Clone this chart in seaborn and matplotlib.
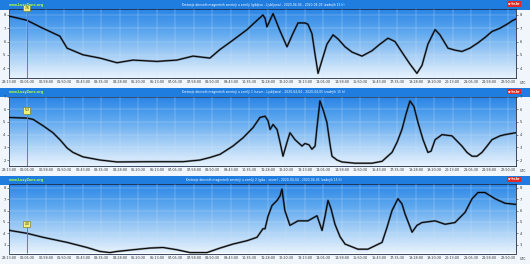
import numpy as np
import pandas as pd
import matplotlib
matplotlib.use("Agg")
import matplotlib.pyplot as plt
import seaborn as sns
from matplotlib.colors import LinearSegmentedColormap
from matplotlib.patches import Rectangle

sns.set_theme(style="white")
plt.rcParams['font.family'] = ['DejaVu Sans']

# ---------------- data (hours since 23:13 UTC) ----------------
hours_1 = [0.00, 0.05, 0.85, 1.47, 2.41, 2.75, 3.50, 4.31, 5.11, 5.87, 7.01, 7.95, 8.71, 9.51,
           9.99, 10.60, 11.27, 12.02, 12.12, 12.21, 12.50, 12.83, 13.16, 13.44, 13.68, 14.01,
           14.15, 14.34, 14.49, 14.63, 14.82, 15.05, 15.34, 15.57, 15.91, 16.24, 16.71, 17.18,
           17.56, 17.94, 18.27, 18.60, 18.98, 19.31, 19.55, 19.83, 20.17, 20.40, 20.78, 21.11,
           21.44, 21.82, 22.20, 22.53, 22.86, 23.24, 23.57, 23.86, 24.00]
level_1 = [7.85, 7.9, 7.6, 7.1, 6.4, 5.5, 5.0, 4.75, 4.4, 4.6, 4.5, 4.6, 4.9, 4.75,
           5.4, 6.1, 6.9, 8.0, 7.75, 7.1, 8.1, 6.8, 5.6, 6.6, 7.4, 7.4,
           7.3, 6.6, 5.0, 3.6, 4.6, 5.8, 6.5, 6.2, 5.6, 5.2, 4.9, 5.3,
           5.8, 6.25, 6.0, 5.2, 4.3, 3.6, 4.2, 5.8, 6.9, 6.5, 5.5, 5.35,
           5.25, 5.5, 5.9, 6.3, 6.75, 7.0, 7.3, 7.6, 7.7]

hours_2 = [0.00, 0.85, 1.14, 1.61, 2.08, 2.41, 2.75, 3.03, 3.50, 4.31, 5.11, 6.67, 8.24, 9.04,
           9.51, 9.99, 10.60, 11.08, 11.55, 11.88, 12.12, 12.26, 12.36, 12.50, 12.69, 12.83,
           12.97, 13.16, 13.30, 13.54, 13.87, 14.01, 14.20, 14.34, 14.49, 14.58, 14.72, 14.86,
           15.05, 15.20, 15.29, 15.53, 15.76, 16.38, 17.18, 17.66, 18.13, 18.37, 18.60, 18.79,
           18.98, 19.17, 19.36, 19.60, 19.83, 19.98, 20.17, 20.50, 20.97, 21.44, 21.68, 21.92,
           22.15, 22.39, 22.63, 22.86, 23.24, 23.48, 24.00]
level_2 = [5.35, 5.3, 5.2, 4.7, 4.15, 3.6, 2.95, 2.6, 2.25, 2.0, 1.85, 1.87, 1.87, 2.0,
           2.2, 2.45, 3.1, 3.75, 4.55, 5.35, 5.45, 5.1, 4.4, 4.8, 4.4, 3.4,
           2.3, 3.4, 4.15, 3.6, 3.1, 3.3, 3.2, 2.85, 3.1, 4.6, 6.65, 6.0,
           4.95, 3.2, 2.3, 2.0, 1.85, 1.75, 1.75, 1.9, 2.6, 3.4, 4.4, 5.6,
           6.65, 6.2, 4.95, 3.6, 2.6, 2.7, 3.6, 4.0, 3.9, 3.1, 2.6, 2.3,
           2.3, 2.6, 3.1, 3.6, 3.9, 4.0, 4.15]

hours_3 = [0.00, 0.05, 0.85, 1.61, 2.75, 3.69, 4.31, 4.78, 5.11, 5.87, 6.67, 7.29, 7.95, 8.57,
           9.37, 9.99, 10.60, 11.27, 11.74, 12.02, 12.12, 12.26, 12.45, 12.69, 12.83, 12.92,
           13.06, 13.30, 13.68, 14.15, 14.58, 14.82, 14.96, 15.10, 15.24, 15.43, 15.67, 15.91,
           16.52, 16.99, 17.66, 17.89, 18.13, 18.41, 18.60, 18.75, 19.08, 19.31, 19.55, 20.17,
           20.64, 21.11, 21.59, 21.92, 22.20, 22.53, 23.01, 23.48, 24.00]
level_3 = [4.3, 4.25, 4.0, 3.65, 3.2, 2.75, 2.4, 2.3, 2.4, 2.55, 2.7, 2.75, 2.55, 2.3,
           2.3, 2.7, 3.05, 3.35, 3.65, 4.4, 4.4, 5.5, 6.45, 6.9, 7.3, 7.9,
           6.0, 4.7, 5.1, 5.1, 5.55, 4.25, 5.5, 6.9, 6.2, 4.8, 3.7, 3.05,
           2.6, 2.6, 3.2, 4.5, 6.0, 7.05, 6.6, 5.7, 4.1, 4.7, 4.95, 5.1,
           4.8, 4.95, 5.85, 7.05, 7.6, 7.6, 7.05, 6.65, 6.55]

titles = [
    "Kretanje dnevnih magnetnih smetnji u zemlji (gibljivo - Ljubljana) - 2020-04-04 - 2020-04-05 (zadnjih 15 h)",
    "Kretanje dnevnih magnetnih smetnji u zemlji 1 (sever - Ljubljana) - 2020-04-04 - 2020-04-05 (zadnjih 15 h)",
    "Kretanje dnevnih magnetnih smetnji u zemlji 2 (gibs - sever) - 2020-04-04 - 2020-04-05 (zadnjih 15 h)",
]
site_label = "www.LuxyZone.org"
badge_label = "sr-hr.hr"
unit_label = "UTC"

marker_hour = 0.85
marker_texts = ["7.6", "5.3", "4.0"]
marker_box_levels = [8.5, 5.9, 4.8]

yticks_all = [[4, 5, 6, 7, 8], [2, 3, 4, 5, 6, 7], [3, 4, 5, 6, 7, 8]]
ylims_all = [(3.25, 8.45), (1.57, 6.98), (2.22, 8.35)]

time_labels = ["23:13:00", "00:05:30", "00:58:00", "01:50:30", "02:43:00", "03:35:30", "04:28:00",
               "05:20:30", "06:13:00", "07:05:30", "07:58:00", "08:50:30", "09:43:00", "10:35:30",
               "11:28:00", "12:20:30", "13:13:00", "14:05:30", "14:58:00", "15:50:30", "16:43:00",
               "17:35:30", "18:28:00", "19:20:30", "20:13:00", "21:05:30", "21:58:00", "22:50:30"]
time_label_hours = [0.875 * i for i in range(len(time_labels))]

series = [(hours_1, level_1), (hours_2, level_2), (hours_3, level_3)]

# ---------------- layout ----------------
W, H = 530, 264
fig = plt.figure(figsize=(W / 100, H / 100), dpi=100)
fig.patch.set_facecolor('#f1f6fc')

def fx(px):
    return px / W

def fy(py):
    return 1 - py / H

panel_offsets = [0, 87.5, 175.5]
plot_tops = [9, 96.5, 184]
plot_bottoms = [78, 165.5, 253.5]

cmap = LinearSegmentedColormap.from_list(
    "sky", ["#2a85e6", "#5ea8ef", "#a6cff6", "#e8f3fd"])
grad = np.linspace(0, 1, 256).reshape(-1, 1)

for k in range(3):
    off = panel_offsets[k]
    # header band
    fig.add_artist(Rectangle((0, fy(off + 9.5)), 1, 9.5 / H, transform=fig.transFigure,
                             facecolor='#1f7de0', edgecolor='none', zorder=0))
    top, bot = plot_tops[k], plot_bottoms[k]
    ax = fig.add_axes([fx(9), fy(bot), fx(507), (bot - top) / H])
    ylo, yhi = ylims_all[k]
    ax.imshow(grad, extent=[0, 24, ylo, yhi], aspect='auto', cmap=cmap,
              origin='upper', zorder=0, interpolation='bilinear')

    hrs, lev = series[k]
    df = pd.DataFrame({"hour": hrs, "level": lev})
    sns.lineplot(data=df, x="hour", y="level", ax=ax, color='#1a1a1a', lw=1.5,
                 alpha=0.5, estimator=None, sort=False, zorder=3)
    sns.lineplot(data=df, x="hour", y="level", ax=ax, color='black', lw=0.7,
                 estimator=None, sort=False, zorder=4)

    ax.set_xlim(0, 24)
    ax.set_ylim(ylo, yhi)
    ax.set_xlabel("")
    ax.set_ylabel("")
    ax.set_xticks(time_label_hours)
    ax.set_xticklabels(time_labels)
    ax.set_yticks(yticks_all[k])
    ax.grid(True, color='#d4e6f7', lw=0.3, alpha=0.7, zorder=1)
    ax.set_axisbelow(False)
    ax.tick_params(axis='x', length=0, pad=1.6, labelsize=2.4, colors='#333333')
    ax.tick_params(axis='y', left=True, right=True, labelleft=True, labelright=True,
                   length=1.5, width=0.4, pad=1.0, labelsize=2.6, colors='#333333')
    for sp in ax.spines.values():
        sp.set_color('#1b2a48')
        sp.set_linewidth(0.6)
        sp.set_visible(True)

    # marker
    box_level = marker_box_levels[k]
    ax.vlines(marker_hour, ylo, min(box_level, yhi), color='#e05050', lw=0.7, zorder=5)
    ax.text(marker_hour, box_level, marker_texts[k], ha='center', va='center',
            fontsize=2.2, color='#222222', clip_on=False, zorder=6,
            bbox=dict(boxstyle='square,pad=0.35', fc='#f2f27a', ec='#6f6f20', lw=0.4))

    # header texts
    fig.text(0.497, fy(off + 4.6), titles[k], ha='center', va='center',
             color='white', fontsize=2.2)
    fig.text(fx(9), fy(off + 4.6), site_label, ha='left', va='center',
             color='#b4ff3c', fontsize=2.3, fontweight='bold')
    fig.text(fx(514), fy(off + 4.0), badge_label, ha='center', va='center',
             color='white', fontsize=2.2, fontweight='bold',
             bbox=dict(boxstyle='square,pad=0.3', fc='#e02828', ec='none'))
    fig.text(fx(523), fy(off + 83.5), unit_label, ha='center', va='center',
             color='#333333', fontsize=2.4)

fig.savefig("out.png", dpi=100, facecolor=fig.get_facecolor())
